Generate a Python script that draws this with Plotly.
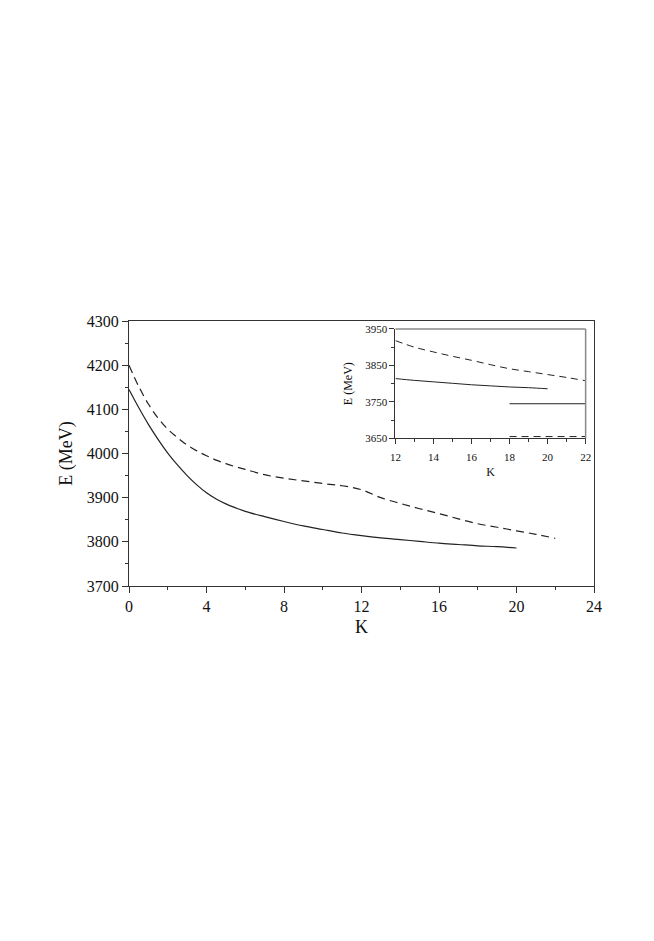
import plotly.graph_objects as go

# main panel: E(K) for the two states
K_SOLID = [0, 0.5, 1, 1.5, 2, 2.5, 3, 3.5, 4, 4.5, 5, 5.5, 6, 7, 8, 9, 10,
           11, 12, 13, 14, 15, 16, 17, 18, 19, 20]
E_SOLID = [4145, 4104, 4066, 4032, 4001, 3974, 3950, 3929, 3911, 3897, 3886,
           3877, 3869, 3857, 3846, 3836, 3828, 3820, 3814, 3809, 3805, 3801,
           3797, 3794, 3791, 3789, 3786]

K_DASH = [0, 0.5, 1, 1.5, 2, 2.5, 3, 3.5, 4, 4.5, 5, 5.5, 6, 7, 8, 9, 10, 11,
          12, 13, 14, 15, 16, 17, 18, 19, 20, 21, 22]
E_DASH = [4200, 4152, 4112, 4080, 4055, 4036, 4019, 4006, 3995, 3985, 3977,
          3970, 3964, 3952, 3944, 3938, 3932, 3927, 3918, 3900, 3887, 3875,
          3864, 3852, 3841, 3833, 3825, 3817, 3808]

# inset: tail of the curves plus the two asymptotic levels
K_LEVEL = [18, 22]
E_LEVEL_SOLID = [3745, 3745]
E_LEVEL_DASH = [3655, 3655]

FONT = "Liberation Serif, Times New Roman, serif"
INK = "#222222"
AXIS = "#333333"
TXT = "#111111"


def tail(ks, es, k0=12):
    pairs = [(k, e) for k, e in zip(ks, es) if k >= k0]
    return [p[0] for p in pairs], [p[1] for p in pairs]


fig = go.Figure()

fig.add_trace(go.Scatter(x=K_SOLID, y=E_SOLID, mode="lines", line_shape="spline",
                         line=dict(color=INK, width=1.2), showlegend=False))
fig.add_trace(go.Scatter(x=K_DASH, y=E_DASH, mode="lines", line_shape="spline",
                         line=dict(color=INK, width=1.2, dash="8px,5px"),
                         showlegend=False))

ks, es = tail(K_SOLID, E_SOLID)
fig.add_trace(go.Scatter(x=ks, y=es, mode="lines", line_shape="spline",
                         line=dict(color=INK, width=1), xaxis="x2", yaxis="y2",
                         showlegend=False))
kd, ed = tail(K_DASH, E_DASH)
fig.add_trace(go.Scatter(x=kd, y=ed, mode="lines", line_shape="spline",
                         line=dict(color=INK, width=1, dash="7px,5px"),
                         xaxis="x2", yaxis="y2", showlegend=False))
fig.add_trace(go.Scatter(x=K_LEVEL, y=E_LEVEL_SOLID, mode="lines",
                         line=dict(color=INK, width=1), xaxis="x2", yaxis="y2",
                         showlegend=False))
fig.add_trace(go.Scatter(x=K_LEVEL, y=E_LEVEL_DASH, mode="lines",
                         line=dict(color=INK, width=1, dash="7px,5px"),
                         xaxis="x2", yaxis="y2", showlegend=False))

main_axis = dict(showline=True, linecolor=AXIS, linewidth=1, mirror=True,
                 showgrid=False, zeroline=False, ticks="outside", ticklen=6,
                 tickcolor=AXIS, automargin=False,
                 tickfont=dict(family=FONT, size=16, color=TXT))
inset_axis = dict(showline=True, linecolor=AXIS, linewidth=1,
                  showgrid=False, zeroline=False, ticks="outside", ticklen=5,
                  tickcolor=AXIS, automargin=False,
                  tickfont=dict(family=FONT, size=11, color=TXT))

# page body has an 8px margin, so the figure is shrunk and margins shifted to match
fig.update_layout(
    width=646, height=925,
    margin=dict(l=121, r=60, t=313, b=347),
    paper_bgcolor="white", plot_bgcolor="white",
    xaxis=dict(main_axis, domain=[0, 1], range=[0, 24],
               tickmode="linear", tick0=0, dtick=4,
               minor=dict(dtick=2, ticklen=3, ticks="outside", tickcolor=AXIS),
               title=dict(text="K", font=dict(family=FONT, size=18, color=TXT),
                          standoff=6)),
    yaxis=dict(main_axis, domain=[0, 1], range=[3700, 4300],
               tickmode="linear", tick0=3700, dtick=100,
               minor=dict(dtick=50, ticklen=3, ticks="outside", tickcolor=AXIS),
               title=dict(text="E (MeV)", font=dict(family=FONT, size=18, color=TXT),
                          standoff=9)),
    xaxis2=dict(inset_axis, domain=[0.573, 0.982], range=[12, 22], anchor="y2",
                tickmode="linear", tick0=12, dtick=2, ticklabelstandoff=3,
                minor=dict(dtick=1, ticklen=3, ticks="outside", tickcolor=AXIS),
                title=dict(text="K", font=dict(family=FONT, size=12, color=TXT),
                           standoff=6)),
    yaxis2=dict(inset_axis, domain=[0.557, 0.970], range=[3650, 3950], anchor="x2",
                tickmode="linear", tick0=3650, dtick=100,
                minor=dict(dtick=50, ticklen=3, ticks="outside", tickcolor=AXIS),
                title=dict(text="E (MeV)", font=dict(family=FONT, size=12, color=TXT),
                           standoff=10)),
    shapes=[
        # grey top and right frame of the inset
        dict(type="line", xref="x2 domain", yref="y2 domain", x0=0, x1=1, y0=1, y1=1,
             line=dict(color="#888888", width=1.5)),
        dict(type="line", xref="x2 domain", yref="y2 domain", x0=1, x1=1, y0=0, y1=1,
             line=dict(color="#888888", width=1.5)),
    ],
)

fig.write_html("out.html")
